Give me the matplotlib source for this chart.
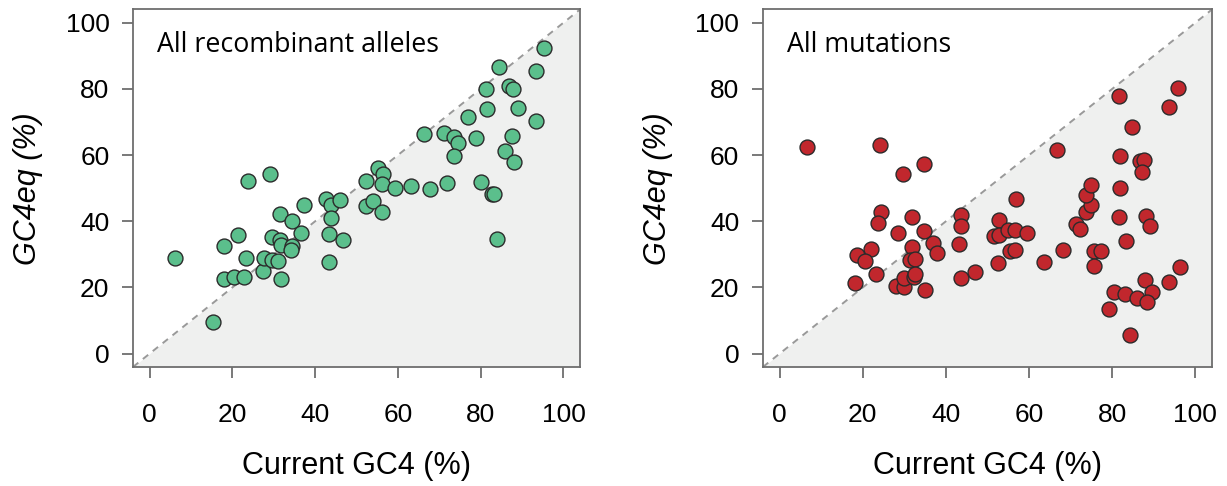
import matplotlib.pyplot as plt
import numpy as np

# GC4 at present vs. equilibrium GC4, recombinant alleles
recomb_gc4 = [6.2, 15.4, 17.9, 20.3, 22.8, 18.1, 21.4, 23.3, 23.9, 29.2,
              27.5, 27.7, 29.5, 31.1, 31.8, 29.6, 31.6, 31.7, 31.6, 34.4,
              34.4, 34.2, 36.5, 37.3, 42.7, 43.9, 46.0, 43.9, 43.4, 43.4,
              46.7, 52.3, 55.3, 56.5, 56.1, 59.4, 63.2, 67.8, 71.9, 52.2,
              54.1, 56.2, 66.4, 71.1, 73.5, 74.5, 73.5, 76.9, 78.8, 81.4,
              84.4, 81.6, 86.8, 87.8, 88.9, 93.4, 95.3, 93.4, 87.5, 85.8,
              88.0, 80.1, 82.7, 83.2, 83.9]
recomb_gc4eq = [29.0, 9.7, 22.5, 23.1, 23.1, 32.4, 35.9, 29.0, 52.2, 54.2,
                25.1, 28.8, 28.4, 28.1, 22.5, 35.4, 34.5, 32.8, 42.3, 40.1,
                32.5, 31.4, 36.4, 44.9, 46.6, 44.9, 46.3, 40.9, 36.3, 27.8,
                34.5, 52.3, 56.1, 54.3, 51.3, 50.2, 50.7, 49.7, 51.6, 44.6,
                46.0, 42.7, 66.3, 66.8, 65.5, 63.7, 59.7, 71.6, 65.2, 79.9,
                86.6, 73.8, 81.0, 79.9, 74.1, 85.5, 92.5, 70.4, 65.7, 61.3,
                57.9, 52.0, 48.1, 48.3, 34.8]

# same, for all mutations
mut_gc4 = [6.7, 24.2, 29.6, 34.7, 24.4, 23.7, 31.8, 28.4, 34.7, 36.9,
           37.8, 31.9, 21.9, 18.5, 20.6, 31.4, 32.6, 23.1, 18.1, 27.9,
           29.9, 30.0, 32.4, 32.6, 34.9, 43.6, 43.7, 43.1, 43.6, 47.0,
           56.9, 52.7, 51.6, 52.7, 55.0, 56.6, 59.6, 55.4, 56.5, 52.5,
           63.7, 68.2, 66.7, 71.3, 72.3, 73.8, 75.0, 73.8, 74.9, 75.5,
           77.3, 75.6, 81.7, 84.7, 81.9, 86.7, 87.7, 87.1, 81.9, 81.7,
           88.2, 89.2, 83.2, 95.7, 93.7, 96.2, 93.7, 88.0, 89.6, 80.4,
           83.0, 86.0, 88.4, 79.2, 84.3]
mut_gc4eq = [62.3, 63.1, 54.4, 57.2, 42.8, 39.6, 41.2, 36.4, 37.1, 33.4,
             30.4, 32.3, 31.5, 29.9, 28.0, 28.4, 28.5, 24.0, 21.3, 20.6,
             20.1, 22.8, 23.1, 24.0, 19.3, 41.8, 38.6, 33.0, 23.0, 24.8,
             46.7, 40.4, 35.5, 36.0, 37.3, 37.3, 36.6, 31.1, 31.3, 27.3,
             27.6, 31.3, 61.6, 39.2, 37.7, 42.8, 44.9, 47.9, 51.1, 31.0,
             31.0, 26.6, 77.8, 68.5, 59.8, 58.3, 58.6, 54.8, 50.1, 41.4,
             41.7, 38.7, 34.1, 80.4, 74.4, 26.3, 21.6, 22.3, 18.6, 18.6,
             17.9, 16.9, 15.7, 13.4, 5.6]

ticks = [0, 20, 40, 60, 80, 100]
lims = (-4, 104)

panels = [
    (recomb_gc4, recomb_gc4eq, "#5bbf8c", "All recombinant alleles"),
    (mut_gc4, mut_gc4eq, "#c1272d", "All mutations"),
]

fig = plt.figure(figsize=(12.27, 4.86), dpi=100)
axes = [fig.add_axes([0.1084, 0.245, 0.3643, 0.7355]),
        fig.add_axes([0.6218, 0.245, 0.3660, 0.7355])]

label_font = "Liberation Sans"

for ax, (x, y, color, title) in zip(axes, panels):
    # shaded half below the y = x line
    ax.fill_between([lims[0], lims[1]], [lims[0], lims[1]], lims[0],
                    color="#eff0ef", linewidth=0, zorder=0)
    ax.plot(lims, lims, linestyle=(0, (3.5, 3)), color="#999999",
            linewidth=1.4, zorder=1)
    ax.scatter(x, y, s=115, color=color, edgecolor="#2b2b2b",
               linewidth=1.0, zorder=3)

    ax.set_xlim(lims)
    ax.set_ylim(lims)
    ax.set_xticks(ticks)
    ax.set_yticks(ticks)
    for side in ["left", "right", "top", "bottom"]:
        ax.spines[side].set_color("#6e6e6e")
        ax.spines[side].set_linewidth(1.3)
    ax.tick_params(direction="out", length=8, width=1.3, color="#6e6e6e",
                   labelsize=19)
    ax.tick_params(axis="x", pad=18)
    ax.tick_params(axis="y", pad=9)
    for lab in ax.get_xticklabels() + ax.get_yticklabels():
        lab.set_fontfamily(label_font)

    ax.set_xlabel("Current GC4 (%)", fontsize=22, family=label_font,
                  labelpad=17)
    ax.set_ylabel("GC4eq (%)", fontsize=22, family=label_font,
                  style="italic", labelpad=16)
    ax.text(0.054, 0.88, title, transform=ax.transAxes, fontsize=19.3,
            family="Open Sans", ha="left", va="baseline")

fig.savefig("out.png", dpi=100)
